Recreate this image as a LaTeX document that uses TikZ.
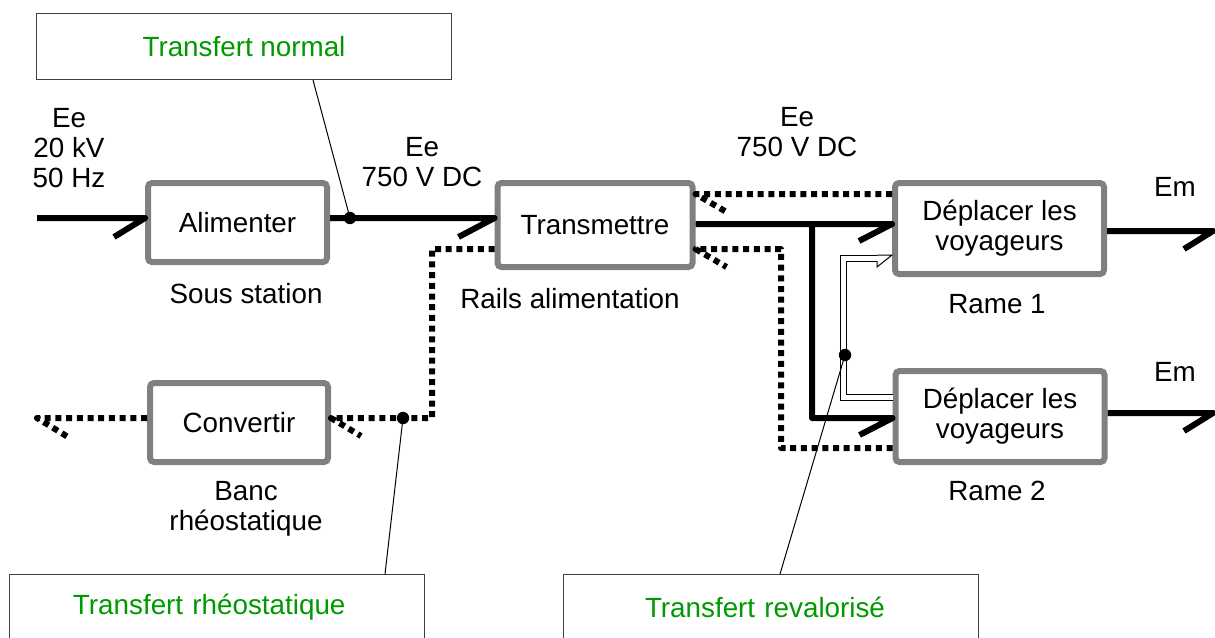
\documentclass[tikz,border=0pt]{standalone}
\usepackage{fontspec}
\setmainfont{Liberation Sans}
\usepackage{xcolor}
\usepackage{tikz}
\definecolor{boxgray}{RGB}{128, 128, 128}
\definecolor{notegreen}{RGB}{0, 153, 0}
\definecolor{notegray}{RGB}{64, 64, 64}

\tikzset{
    fonction/.style={draw=boxgray, line width=3pt, rounded corners=2pt, fill=white, align=center, inner sep=0pt},
    rame/.style={fonction, minimum width=104.5pt, minimum height=45.5pt},
    note/.style={draw=notegray, line width=0.5pt, fill=white, text=notegreen, minimum width=207.5pt, minimum height=33pt},
    power/.style={line width=3pt, line join=round},
    regen/.style={line width=3pt, dash pattern=on 3pt off 2.35pt, line join=round},
    hollow/.style={draw=black, line width=0.5pt, double=white, double distance=2.5pt},
    junction/.style={circle, fill=black, inner sep=0pt, minimum size=6.2pt},
    pointer/.style={line width=0.5pt},
    lbl/.style={align=center, inner sep=0pt}
}

\begin{document}
\begin{tikzpicture}[x=0.5pt, y=-0.5pt, font=\fontsize{13.9}{15}\selectfont]
    \useasboundingbox (0,0) rectangle (1215,637);

    % fonctions
    \node[fonction, minimum width=89.5pt, minimum height=39.5pt] (alim) at (237.5,222.5) {Alimenter};
    \node[fonction, minimum width=89pt, minimum height=39.5pt] (conv) at (239,422.5) {Convertir};
    \node[fonction, minimum width=97.5pt, minimum height=42pt] (trans) at (595,225) {Transmettre};
    \node[rame] (rame1) at (999.5,228.5) {Déplacer les\\voyageurs};
    \node[rame] (rame2) at (1000,416.5) {Déplacer les\\voyageurs};

    % etiquettes
    \node[lbl] (eeIn) at (69,148) {Ee\\20 kV\\50 Hz};
    \node[lbl] (eeDc) at (422,162) {Ee\\750 V DC};
    \node[lbl] (eeRail) at (797,132) {Ee\\750 V DC};
    \node[lbl] (lSous) at (246,294) {Sous station};
    \node[lbl] (lRails) at (570,299) {Rails alimentation};
    \node[lbl] (lBanc) at (246,509) {Banc\\rhéostatique};
    \node[lbl] (lRame1) at (997,304) {Rame 1};
    \node[lbl] (lRame2) at (997,491) {Rame 2};
    \node[lbl] (em1) at (1175,187) {Em};
    \node[lbl] (em2) at (1175,372) {Em};

    \coordinate (srcEe) at (37,218);
    \coordinate (bus) at (812,224);
    \coordinate (outEm1) at (1213,231);
    \coordinate (outEm2) at (1213,413);
    \coordinate (outRh) at (37,418);

    % transfert normal
    \draw[power] (srcEe) -- (srcEe -| alim.west) -- ++(-31,19);
    \draw[power] (alim.east |- srcEe) -- (trans.west |- srcEe) -- ++(-36,19);
    \draw[power] (trans.east |- bus) -- (bus -| rame1.west) -- ++(-33,17);
    \draw[power] (bus) |- (rame2.west |- 0,418) -- ++(-33,17);
    \draw[power] (rame1.east |- outEm1) -- (outEm1) -- ++(-29,18);
    \draw[power] (rame2.east |- outEm2) -- (outEm2) -- ++(-29,18);

    % freinage
    \draw[regen] (rame1.west |- 0,194) -- (trans.east |- 0,194) -- ++(31,18);
    \draw[regen] (rame2.west |- 0,448) -| (781,249) -- (trans.east |- 0,249) -- ++(31,18);
    \draw[regen] (trans.west |- 0,249) -| (432,418) -- (conv.east |- 0,418) -- ++(30,18);
    \draw[regen] (conv.west |- outRh) -- (outRh) -- ++(31,19);

    % revalorise
    \draw[hollow] (rame2.west |- 0,397.5) -| (843.5,258) -- (877,258);
    \fill[white] (877,255) -- (rame1.west |- 0,255) -- (877,267) -- cycle;
    \draw[pointer] (877,261) -- (877,267) -- (rame1.west |- 0,255) -- (877,255);

    % renvois
    \node[junction] (jNormal) at (350,218) {};
    \node[junction] (jRheo) at (403,418) {};
    \node[junction] (jReval) at (845,355) {};
    \node[note] (nNormal) at (244,46.5) {Transfert normal};
    \node[note, text width=200pt, align=left] (nRheo) at (217,607.5) {\hspace*{28pt}Transfert rhéostatique};
    \node[note, text width=200pt, align=left] (nReval) at (771,607.5) {\hspace*{37pt}Transfert revalorisé};
    \draw[pointer] (jNormal.center) -- (nNormal.south -| 313,0);
    \draw[pointer] (jRheo.center) -- (nRheo.north -| 385,0);
    \draw[pointer] (jReval.center) -- (nReval.north -| 780,0);
\end{tikzpicture}
\end{document}
